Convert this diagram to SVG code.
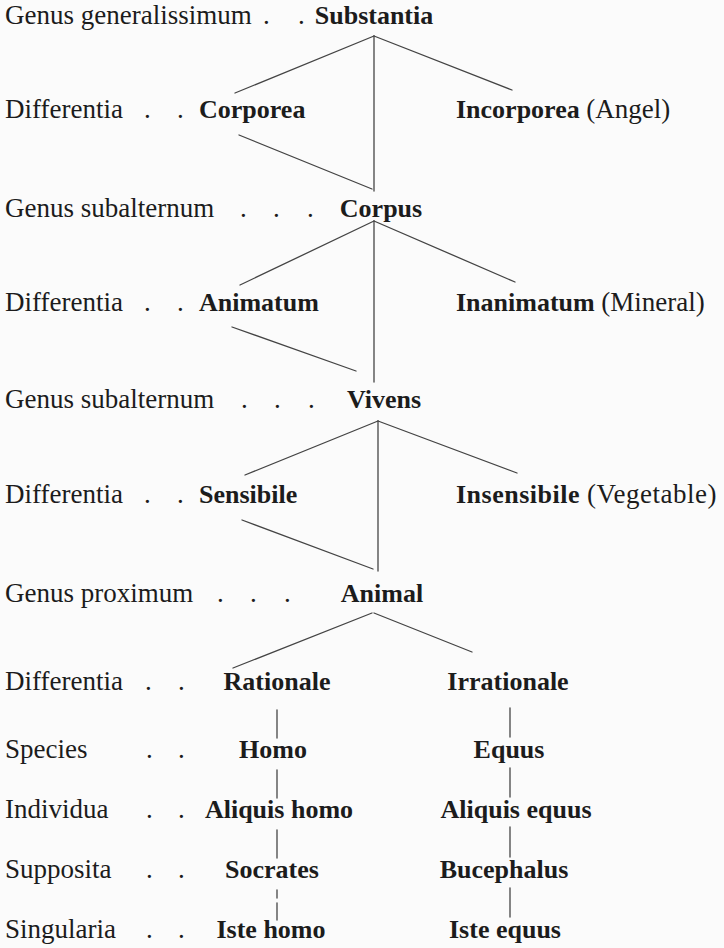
<svg xmlns="http://www.w3.org/2000/svg" width="724" height="948" viewBox="0 0 724 948">
<style>
.lab{font-family:"Liberation Serif","Times New Roman",serif;font-size:27px;fill:#1c1c1c}
.node{font-family:"Liberation Serif","Times New Roman",serif;font-size:26px;font-weight:bold;fill:#1c1c1c}
.reg{font-weight:normal;font-size:27px}
.mid{text-anchor:middle}
.edge{stroke:#444;stroke-width:1.3;fill:none;stroke-linecap:round}
</style>
<rect x="0" y="0" width="724" height="948" fill="#fbfbfb"/>

<g id="connectors">
  <line class="edge" x1="374" y1="36" x2="235" y2="93"/>
  <line class="edge" x1="374" y1="36" x2="512" y2="90"/>
  <line class="edge" x1="374" y1="36" x2="374" y2="191"/>
  <line class="edge" x1="239" y1="135" x2="372" y2="189"/>

  <line class="edge" x1="374" y1="221" x2="240" y2="285"/>
  <line class="edge" x1="374" y1="221" x2="515" y2="282"/>
  <line class="edge" x1="374" y1="221" x2="374" y2="382"/>
  <line class="edge" x1="232" y1="327" x2="356" y2="371"/>

  <line class="edge" x1="378" y1="421" x2="245" y2="475"/>
  <line class="edge" x1="378" y1="421" x2="517" y2="473"/>
  <line class="edge" x1="378" y1="421" x2="378" y2="571"/>
  <line class="edge" x1="242" y1="520" x2="373" y2="569"/>

  <line class="edge" x1="372" y1="613" x2="233" y2="668"/>
  <line class="edge" x1="374" y1="613" x2="472" y2="652"/>

  <line class="edge" x1="277" y1="710" x2="277" y2="738"/>
  <line class="edge" x1="277" y1="770" x2="277" y2="798"/>
  <line class="edge" x1="277" y1="830" x2="277" y2="858"/>
  <line class="edge" x1="277" y1="890" x2="277" y2="898"/>
  <line class="edge" x1="277" y1="903" x2="277" y2="920"/>

  <line class="edge" x1="510" y1="708" x2="510" y2="737"/>
  <line class="edge" x1="510" y1="768" x2="510" y2="797"/>
  <line class="edge" x1="510" y1="827" x2="510" y2="857"/>
  <line class="edge" x1="510" y1="888" x2="510" y2="917"/>
</g>

<g id="lab-genus-generalissimum"><text class="lab" x="5" y="24">Genus generalissimum<tspan x="263">.</tspan><tspan x="298">.</tspan></text></g>
<g id="substantia"><text class="node mid" x="374" y="24">Substantia</text></g>

<g id="lab-differentia-1"><text class="lab" x="5" y="118">Differentia<tspan x="144">.</tspan><tspan x="177">.</tspan></text></g>
<g id="corporea"><text class="node" x="199" y="118">Corporea</text></g>
<g id="incorporea"><text class="node" x="456" y="118">Incorporea <tspan class="reg">(Angel)</tspan></text></g>

<g id="lab-genus-subalternum-1"><text class="lab" x="5" y="217">Genus subalternum<tspan x="240">.</tspan><tspan x="273">.</tspan><tspan x="307">.</tspan></text></g>
<g id="corpus"><text class="node mid" x="381" y="217">Corpus</text></g>

<g id="lab-differentia-2"><text class="lab" x="5" y="311">Differentia<tspan x="144">.</tspan><tspan x="177">.</tspan></text></g>
<g id="animatum"><text class="node" x="199" y="311">Animatum</text></g>
<g id="inanimatum"><text class="node" x="456" y="311">Inanimatum <tspan class="reg">(Mineral)</tspan></text></g>

<g id="lab-genus-subalternum-2"><text class="lab" x="5" y="408">Genus subalternum<tspan x="241">.</tspan><tspan x="274">.</tspan><tspan x="308">.</tspan></text></g>
<g id="vivens"><text class="node mid" x="384" y="408">Vivens</text></g>

<g id="lab-differentia-3"><text class="lab" x="5" y="503">Differentia<tspan x="144">.</tspan><tspan x="177">.</tspan></text></g>
<g id="sensibile"><text class="node" x="199" y="503">Sensibile</text></g>
<g id="insensibile"><text class="node" x="456" y="503" letter-spacing="0.5">Insensibile <tspan class="reg">(Vegetable)</tspan></text></g>

<g id="lab-genus-proximum"><text class="lab" x="5" y="602">Genus proximum<tspan x="217">.</tspan><tspan x="250">.</tspan><tspan x="284">.</tspan></text></g>
<g id="animal"><text class="node mid" x="382" y="602">Animal</text></g>

<g id="lab-differentia-4"><text class="lab" x="5" y="690">Differentia<tspan x="145">.</tspan><tspan x="178">.</tspan></text></g>
<g id="rationale"><text class="node mid" x="277" y="690">Rationale</text></g>
<g id="irrationale"><text class="node mid" x="508" y="690">Irrationale</text></g>

<g id="lab-species"><text class="lab" x="5" y="758">Species<tspan x="146">.</tspan><tspan x="178">.</tspan></text></g>
<g id="homo"><text class="node mid" x="273" y="758">Homo</text></g>
<g id="equus"><text class="node mid" x="509" y="758">Equus</text></g>

<g id="lab-individua"><text class="lab" x="5" y="818">Individua<tspan x="146">.</tspan><tspan x="178">.</tspan></text></g>
<g id="aliquis-homo"><text class="node mid" x="279" y="818">Aliquis homo</text></g>
<g id="aliquis-equus"><text class="node mid" x="516" y="818">Aliquis equus</text></g>

<g id="lab-supposita"><text class="lab" x="5" y="878">Supposita<tspan x="146">.</tspan><tspan x="178">.</tspan></text></g>
<g id="socrates"><text class="node mid" x="272" y="878">Socrates</text></g>
<g id="bucephalus"><text class="node mid" x="504" y="878">Bucephalus</text></g>

<g id="lab-singularia"><text class="lab" x="5" y="938">Singularia<tspan x="146">.</tspan><tspan x="178">.</tspan></text></g>
<g id="iste-homo"><text class="node mid" x="271" y="938">Iste homo</text></g>
<g id="iste-equus"><text class="node mid" x="505" y="938">Iste equus</text></g>
</svg>
